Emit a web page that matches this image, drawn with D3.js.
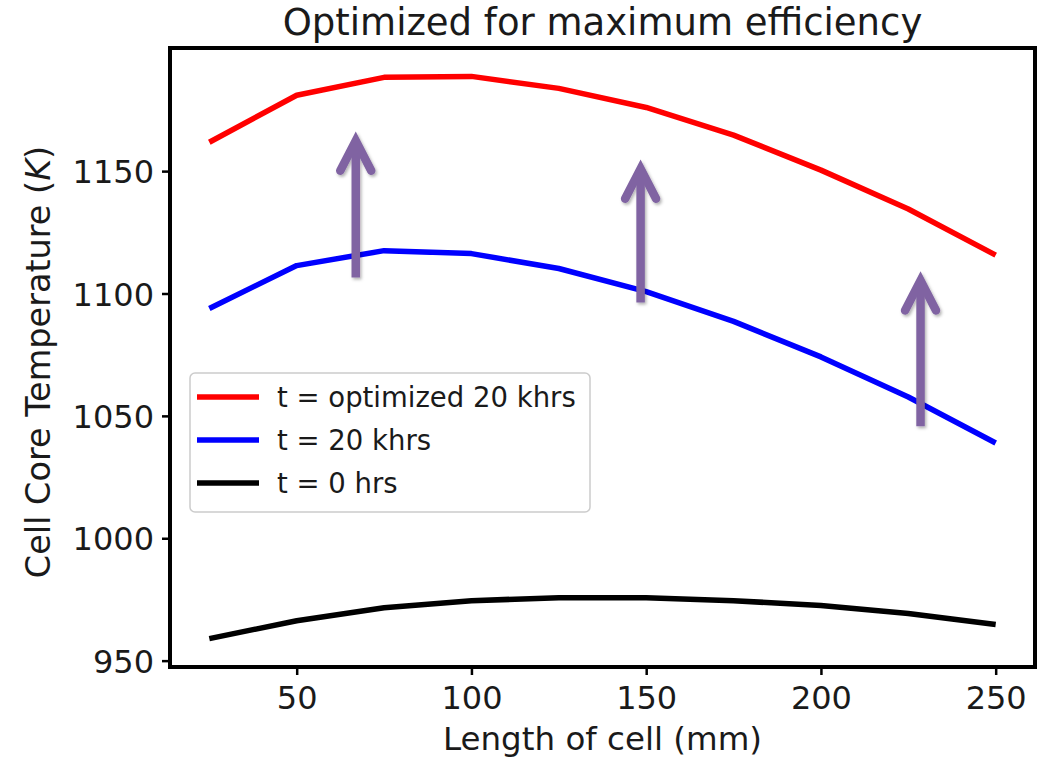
<!DOCTYPE html>
<html>
<head>
<meta charset="utf-8">
<script src="https://cdn.jsdelivr.net/npm/d3@7"></script>
<style>
  html, body { margin: 0; padding: 0; background: #fff; }
  svg { display: block; }
  text { font-family: "DejaVu Sans", sans-serif; fill: #1a1a1a; }
</style>
</head>
<body>
<svg id="chart" width="1051" height="757"></svg>
<script>
// ---- data ----
const lengths = [25, 50, 75, 100, 125, 150, 175, 200, 225, 250];
const tempOptimized20k = [1161.8, 1181.0, 1188.3, 1188.7, 1183.8, 1176.0, 1164.7, 1150.4, 1134.5, 1115.7];
const temp20k = [1093.9, 1111.4, 1117.5, 1116.3, 1110.2, 1100.8, 1088.6, 1074.1, 1057.7, 1038.9];
const temp0 = [959.0, 966.3, 971.6, 974.5, 975.7, 975.7, 974.5, 972.5, 969.3, 964.8];
const seriesNames = ["t = optimized 20 khrs", "t = 20 khrs", "t = 0 hrs"];
const seriesColors = ["#ff0000", "#0000ff", "#000000"];
const xTicks = [50, 100, 150, 200, 250];
const yTicks = [950, 1000, 1050, 1100, 1150];
const xDomain = [13.75, 261.25];
const yDomain = [947.4, 1200.3];
// annotation arrows (data units): x, from, to
const arrowX = [66.9, 148.4, 228.5];
const arrowFrom = [1106.5, 1096.3, 1045.8];
const arrowTo = [1163.2, 1151.8, 1106.1];
const titleText = "Optimized for maximum efficiency";
const xLabel = "Length of cell (mm)";

// ---- layout ----
const plot = { left: 170, right: 1035, top: 48, bottom: 667 };
const svg = d3.select("#chart");

const x = d3.scaleLinear().domain(xDomain).range([plot.left, plot.right]);
const y = d3.scaleLinear().domain(yDomain).range([plot.bottom, plot.top]);

const defs = svg.append("defs");
defs.append("clipPath").attr("id", "clip").append("rect")
  .attr("x", plot.left).attr("y", plot.top)
  .attr("width", plot.right - plot.left).attr("height", plot.bottom - plot.top);
const f = defs.append("filter").attr("id", "shadow")
  .attr("x", "-50%").attr("y", "-20%").attr("width", "200%").attr("height", "140%");
f.append("feDropShadow").attr("dx", 1.5).attr("dy", 2).attr("stdDeviation", 1.5)
  .attr("flood-color", "#000").attr("flood-opacity", 0.3);

// series lines
const series = [tempOptimized20k, temp20k, temp0];
const line = d3.line().x((d, i) => x(lengths[i])).y(d => y(d));
const g = svg.append("g").attr("clip-path", "url(#clip)");
series.forEach((s, k) => {
  g.append("path").datum(s)
    .attr("d", line)
    .attr("fill", "none")
    .attr("stroke", seriesColors[k])
    .attr("stroke-width", 5.5)
    .attr("stroke-linejoin", "round")
    .attr("stroke-linecap", "butt");
});

// axes
const xAxis = d3.axisBottom(x).tickValues(xTicks).tickSize(8).tickPadding(9).tickFormat(d3.format("d"));
const yAxis = d3.axisLeft(y).tickValues(yTicks).tickSize(8).tickPadding(8).tickFormat(d3.format("d"));
const gx = svg.append("g").attr("transform", `translate(0,${plot.bottom})`).call(xAxis);
const gy = svg.append("g").attr("transform", `translate(${plot.left},0)`).call(yAxis);
[gx, gy].forEach(a => {
  a.select(".domain").remove();
  a.selectAll(".tick line").attr("stroke", "#000").attr("stroke-width", 2.5);
  a.selectAll(".tick text").attr("font-size", 32).attr("fill", "#1a1a1a")
    .attr("font-family", "DejaVu Sans, sans-serif");
});
gx.selectAll(".tick text").attr("dy", "0.78em");
gy.selectAll(".tick text").attr("dy", "0.36em");

// frame
svg.append("rect")
  .attr("x", plot.left).attr("y", plot.top)
  .attr("width", plot.right - plot.left).attr("height", plot.bottom - plot.top)
  .attr("fill", "none").attr("stroke", "#000").attr("stroke-width", 4);

// arrows
const arrowColor = "#8064a2";
arrowX.forEach((ax, i) => {
  const ag = svg.append("g").attr("filter", "url(#shadow)");
  const px = x(ax), y0 = y(arrowFrom[i]), y1 = y(arrowTo[i]);
  ag.append("line").attr("x1", px).attr("x2", px).attr("y1", y0).attr("y2", y1 + 3)
    .attr("stroke", arrowColor).attr("stroke-width", 8.5).attr("stroke-linecap", "butt");
  ag.append("path")
    .attr("d", `M${px - 15.5},${y1 + 32} L${px},${y1 + 2} L${px + 15.5},${y1 + 32}`)
    .attr("fill", "none").attr("stroke", arrowColor).attr("stroke-width", 8.5)
    .attr("stroke-linecap", "round").attr("stroke-linejoin", "miter");
});

// legend
const leg = svg.append("g");
leg.append("rect").attr("x", 190).attr("y", 373).attr("width", 400).attr("height", 139)
  .attr("rx", 5).attr("fill", "#fff").attr("fill-opacity", 0.8)
  .attr("stroke", "#cccccc").attr("stroke-width", 1.5);
seriesNames.forEach((name, k) => {
  const cy = 397 + k * 43;
  leg.append("line").attr("x1", 197).attr("x2", 259).attr("y1", cy).attr("y2", cy)
    .attr("stroke", seriesColors[k]).attr("stroke-width", 5.5);
  leg.append("text").attr("x", 277).attr("y", cy).attr("dy", "0.36em")
    .attr("font-size", 27.5).text(name);
});

// title and labels
svg.append("text").attr("x", (plot.left + plot.right) / 2).attr("y", 35)
  .attr("text-anchor", "middle").attr("font-size", 37).text(titleText);
svg.append("text").attr("x", (plot.left + plot.right) / 2).attr("y", 750)
  .attr("text-anchor", "middle").attr("font-size", 32.5).text(xLabel);
const yl = svg.append("text")
  .attr("transform", `translate(50,362) rotate(-90)`)
  .attr("text-anchor", "middle").attr("font-size", 33.5);
yl.append("tspan").text("Cell Core Temperature (");
yl.append("tspan").attr("font-style", "italic").text("K");
yl.append("tspan").text(")");
</script>
</body>
</html>
